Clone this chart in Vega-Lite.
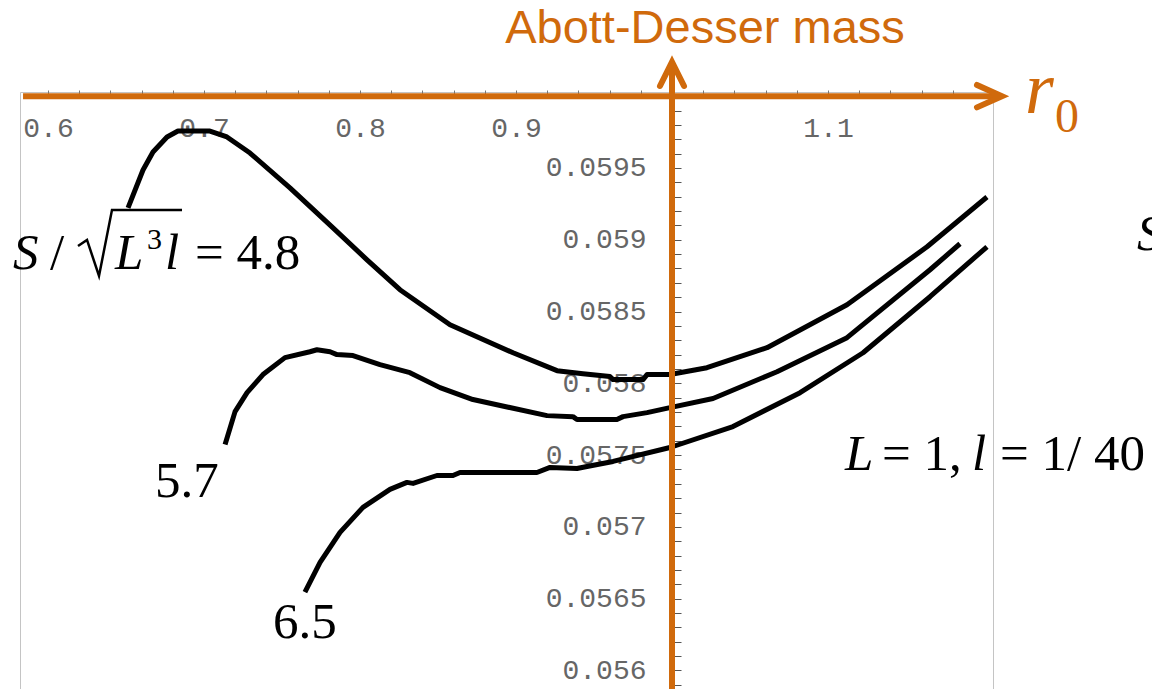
{
  "$schema": "https://vega.github.io/schema/vega-lite/v6.json",
  "width": 973,
  "height": 597,
  "autosize": {"type": "none"},
  "padding": {"left": 20, "top": 92, "right": 159, "bottom": 0},
  "background": "white",
  "config": {"view": {"stroke": "#c4c4c4", "strokeWidth": 1}},
  "datasets": {
    "curves": [
      {"S": "4.8", "r0": 0.6513, "M": 0.059222}, {"S": "4.8", "r0": 0.6609, "M": 0.059486}, {"S": "4.8", "r0": 0.6673, "M": 0.059611}, {"S": "4.8", "r0": 0.6763, "M": 0.059716}, {"S": "4.8", "r0": 0.6833, "M": 0.059757}, {"S": "4.8", "r0": 0.7038, "M": 0.059757}, {"S": "4.8", "r0": 0.7147, "M": 0.059716}, {"S": "4.8", "r0": 0.7295, "M": 0.059604}, {"S": "4.8", "r0": 0.7551, "M": 0.059361}, {"S": "4.8", "r0": 0.7827, "M": 0.059083}, {"S": "4.8", "r0": 0.8045, "M": 0.05886}, {"S": "4.8", "r0": 0.8256, "M": 0.058652}, {"S": "4.8", "r0": 0.8577, "M": 0.058408}, {"S": "4.8", "r0": 0.8981, "M": 0.058213}, {"S": "4.8", "r0": 0.9263, "M": 0.058088}, {"S": "4.8", "r0": 0.9429, "M": 0.058067}, {"S": "4.8", "r0": 0.9602, "M": 0.058047}, {"S": "4.8", "r0": 0.9622, "M": 0.058026}, {"S": "4.8", "r0": 0.9814, "M": 0.058026}, {"S": "4.8", "r0": 0.984, "M": 0.058061}, {"S": "4.8", "r0": 0.9987, "M": 0.058061}, {"S": "4.8", "r0": 1.0224, "M": 0.058109}, {"S": "4.8", "r0": 1.0609, "M": 0.058248}, {"S": "4.8", "r0": 1.1122, "M": 0.058547}, {"S": "4.8", "r0": 1.1635, "M": 0.058951}, {"S": "4.8", "r0": 1.2019, "M": 0.059298},
      {"S": "5.7", "r0": 0.7135, "M": 0.057574}, {"S": "5.7", "r0": 0.7199, "M": 0.057803}, {"S": "5.7", "r0": 0.7276, "M": 0.057935}, {"S": "5.7", "r0": 0.7378, "M": 0.058061}, {"S": "5.7", "r0": 0.7519, "M": 0.058179}, {"S": "5.7", "r0": 0.7679, "M": 0.05822}, {"S": "5.7", "r0": 0.7724, "M": 0.058234}, {"S": "5.7", "r0": 0.7808, "M": 0.05822}, {"S": "5.7", "r0": 0.7852, "M": 0.0582}, {"S": "5.7", "r0": 0.7955, "M": 0.058193}, {"S": "5.7", "r0": 0.8128, "M": 0.05813}, {"S": "5.7", "r0": 0.832, "M": 0.058074}, {"S": "5.7", "r0": 0.8513, "M": 0.05797}, {"S": "5.7", "r0": 0.8724, "M": 0.057887}, {"S": "5.7", "r0": 0.9199, "M": 0.057775}, {"S": "5.7", "r0": 0.9365, "M": 0.057768}, {"S": "5.7", "r0": 0.9391, "M": 0.057748}, {"S": "5.7", "r0": 0.9647, "M": 0.057748}, {"S": "5.7", "r0": 0.9686, "M": 0.057768}, {"S": "5.7", "r0": 0.984, "M": 0.057796}, {"S": "5.7", "r0": 0.9987, "M": 0.057831}, {"S": "5.7", "r0": 1.0263, "M": 0.057894}, {"S": "5.7", "r0": 1.0673, "M": 0.058081}, {"S": "5.7", "r0": 1.1122, "M": 0.058318}, {"S": "5.7", "r0": 1.1654, "M": 0.058791}, {"S": "5.7", "r0": 1.1846, "M": 0.058972},
      {"S": "6.5", "r0": 0.7647, "M": 0.056545}, {"S": "6.5", "r0": 0.7744, "M": 0.056753}, {"S": "6.5", "r0": 0.7872, "M": 0.056962}, {"S": "6.5", "r0": 0.8019, "M": 0.057136}, {"S": "6.5", "r0": 0.8192, "M": 0.057261}, {"S": "6.5", "r0": 0.8301, "M": 0.05731}, {"S": "6.5", "r0": 0.834, "M": 0.057303}, {"S": "6.5", "r0": 0.8493, "M": 0.057358}, {"S": "6.5", "r0": 0.8596, "M": 0.057358}, {"S": "6.5", "r0": 0.8641, "M": 0.057379}, {"S": "6.5", "r0": 0.9134, "M": 0.057379}, {"S": "6.5", "r0": 0.9218, "M": 0.057414}, {"S": "6.5", "r0": 0.9391, "M": 0.057407}, {"S": "6.5", "r0": 0.9455, "M": 0.057421}, {"S": "6.5", "r0": 0.9622, "M": 0.057456}, {"S": "6.5", "r0": 0.9987, "M": 0.057553}, {"S": "6.5", "r0": 1.0391, "M": 0.057699}, {"S": "6.5", "r0": 1.0821, "M": 0.057935}, {"S": "6.5", "r0": 1.1225, "M": 0.058213}, {"S": "6.5", "r0": 1.1654, "M": 0.058603}, {"S": "6.5", "r0": 1.2019, "M": 0.058951}
    ],
    "orangeLines": [
      {"seg": "h", "o": 1, "r0": 0.584, "M": 0.06}, {"seg": "h", "o": 2, "r0": 1.2105, "M": 0.06},
      {"seg": "v", "o": 1, "r0": 1.0, "M": 0.0558}, {"seg": "v", "o": 2, "r0": 1.0, "M": 0.06022}
    ],
    "orangeHeads": [
      {"seg": "h", "o": 1, "r0": 1.1955, "M": 0.060078}, {"seg": "h", "o": 2, "r0": 1.2115, "M": 0.06}, {"seg": "h", "o": 3, "r0": 1.1955, "M": 0.059922},
      {"seg": "v", "o": 1, "r0": 0.9923, "M": 0.060071}, {"seg": "v", "o": 2, "r0": 1.0, "M": 0.060238}, {"seg": "v", "o": 3, "r0": 1.0077, "M": 0.060071}
    ],
    "radical": [
      {"o": 1, "r0": 0.61923, "M": 0.058957}, {"o": 2, "r0": 0.625, "M": 0.058999}, {"o": 3, "r0": 0.63269, "M": 0.058748}, {"o": 4, "r0": 0.64103, "M": 0.059208}, {"o": 5, "r0": 0.6859, "M": 0.059208}
    ],
    "italicBlack": [
      {"t": "S", "r0": 0.57756, "M": 0.058797}, {"t": "L", "r0": 0.64295, "M": 0.058797}, {"t": "l", "r0": 0.675, "M": 0.058797},
      {"t": "L", "r0": 1.1109, "M": 0.057397}, {"t": "l", "r0": 1.19231, "M": 0.057397},
      {"t": "S", "r0": 1.29808, "M": 0.058929}
    ],
    "uprightBlack": [
      {"t": "/", "r0": 0.60128, "M": 0.058797}, {"t": "= 4.8", "r0": 0.69423, "M": 0.058797},
      {"t": "5.7", "r0": 0.66859, "M": 0.057209}, {"t": "6.5", "r0": 0.74423, "M": 0.056227},
      {"t": "= 1,", "r0": 1.13462, "M": 0.057397}, {"t": "= 1/ 40", "r0": 1.21026, "M": 0.057397}
    ],
    "superscript": [{"t": "3", "r0": 0.66346, "M": 0.058936}],
    "orangeTitle": [{"t": "Abott-Desser mass", "r0": 1.02115, "M": 0.060371}],
    "orangeR": [{"t": "r", "r0": 1.22628, "M": 0.059883}],
    "orangeSub": [{"t": "0", "r0": 1.24551, "M": 0.059751}]
  },
  "encoding": {
    "x": {
      "field": "r0", "type": "quantitative",
      "scale": {"domain": [0.58205, 1.20577], "zero": false, "nice": false},
      "axis": {
        "orient": "top", "offset": -4, "title": null, "domain": false, "grid": false,
        "values": [0.6, 0.62, 0.64, 0.66, 0.68, 0.7, 0.72, 0.74, 0.76, 0.78, 0.8, 0.82, 0.84, 0.86, 0.88, 0.9, 0.92, 0.94, 0.96, 0.98, 1.0, 1.02, 1.04, 1.06, 1.08, 1.1, 1.12, 1.14, 1.16, 1.18],
        "labelExpr": "abs(datum.value*10 - round(datum.value*10)) < 0.01 && abs(datum.value - 1) > 0.01 ? format(datum.value, '.1f') : ''",
        "labelOverlap": false, "labelFlush": false,
        "tickSize": 6, "tickColor": "#777", "tickWidth": 1,
        "labelPadding": -38, "labelBaseline": "middle",
        "labelFont": "Liberation Mono", "labelFontSize": 28, "labelColor": "#666"
      }
    },
    "y": {
      "field": "M", "type": "quantitative",
      "scale": {"domain": [0.055871, 0.060029], "zero": false, "nice": false},
      "axis": {
        "orient": "left", "offset": -652, "title": null, "domain": false, "grid": false,
        "values": [0.0559, 0.056, 0.0561, 0.0562, 0.0563, 0.0564, 0.0565, 0.0566, 0.0567, 0.0568, 0.0569, 0.057, 0.0571, 0.0572, 0.0573, 0.0574, 0.0575, 0.0576, 0.0577, 0.0578, 0.0579, 0.058, 0.0581, 0.0582, 0.0583, 0.0584, 0.0585, 0.0586, 0.0587, 0.0588, 0.0589, 0.059, 0.0591, 0.0592, 0.0593, 0.0594, 0.0595, 0.0596, 0.0597, 0.0598, 0.0599],
        "labelExpr": "abs(datum.value*2000 - round(datum.value*2000)) < 0.01 && datum.value > 0.05595 && datum.value < 0.0598 ? format(datum.value, '.4~f') : ''",
        "labelOverlap": false, "labelFlush": false,
        "tickSize": -9, "tickColor": "#555", "tickWidth": 1,
        "labelPadding": 35, "labelAlign": "right", "labelBaseline": "middle",
        "labelFont": "Liberation Mono", "labelFontSize": 28, "labelColor": "#666"
      }
    }
  },
  "layer": [
    {
      "data": {"name": "curves"},
      "mark": {"type": "line", "color": "black", "strokeWidth": 5, "strokeJoin": "round", "strokeCap": "butt"},
      "encoding": {"detail": {"field": "S"}}
    },
    {
      "data": {"name": "orangeLines"},
      "mark": {"type": "line", "color": "#d06a0c", "strokeWidth": 6, "strokeCap": "butt"},
      "encoding": {"detail": {"field": "seg"}, "order": {"field": "o"}}
    },
    {
      "data": {"name": "orangeHeads"},
      "mark": {"type": "line", "color": "#d06a0c", "strokeWidth": 6, "strokeCap": "round", "strokeJoin": "miter"},
      "encoding": {"detail": {"field": "seg"}, "order": {"field": "o"}}
    },
    {
      "data": {"name": "radical"},
      "mark": {"type": "line", "color": "black", "strokeWidth": 2.5, "strokeJoin": "miter", "strokeCap": "butt"},
      "encoding": {"order": {"field": "o"}}
    },
    {
      "data": {"name": "italicBlack"},
      "mark": {"type": "text", "font": "Liberation Serif", "fontStyle": "italic", "fontSize": 51, "align": "left", "baseline": "alphabetic", "color": "black"},
      "encoding": {"text": {"field": "t"}}
    },
    {
      "data": {"name": "uprightBlack"},
      "mark": {"type": "text", "font": "Liberation Serif", "fontSize": 51, "align": "left", "baseline": "alphabetic", "color": "black"},
      "encoding": {"text": {"field": "t"}}
    },
    {
      "data": {"name": "superscript"},
      "mark": {"type": "text", "font": "Liberation Serif", "fontSize": 30, "align": "left", "baseline": "alphabetic", "color": "black"},
      "encoding": {"text": {"field": "t"}}
    },
    {
      "data": {"name": "orangeTitle"},
      "mark": {"type": "text", "font": "Liberation Sans", "fontSize": 47, "align": "center", "baseline": "alphabetic", "color": "#d06a0c"},
      "encoding": {"text": {"field": "t"}}
    },
    {
      "data": {"name": "orangeR"},
      "mark": {"type": "text", "font": "Liberation Serif", "fontStyle": "italic", "fontSize": 74, "align": "left", "baseline": "alphabetic", "color": "#d06a0c"},
      "encoding": {"text": {"field": "t"}}
    },
    {
      "data": {"name": "orangeSub"},
      "mark": {"type": "text", "font": "Liberation Serif", "fontSize": 48, "align": "left", "baseline": "alphabetic", "color": "#d06a0c"},
      "encoding": {"text": {"field": "t"}}
    }
  ]
}
